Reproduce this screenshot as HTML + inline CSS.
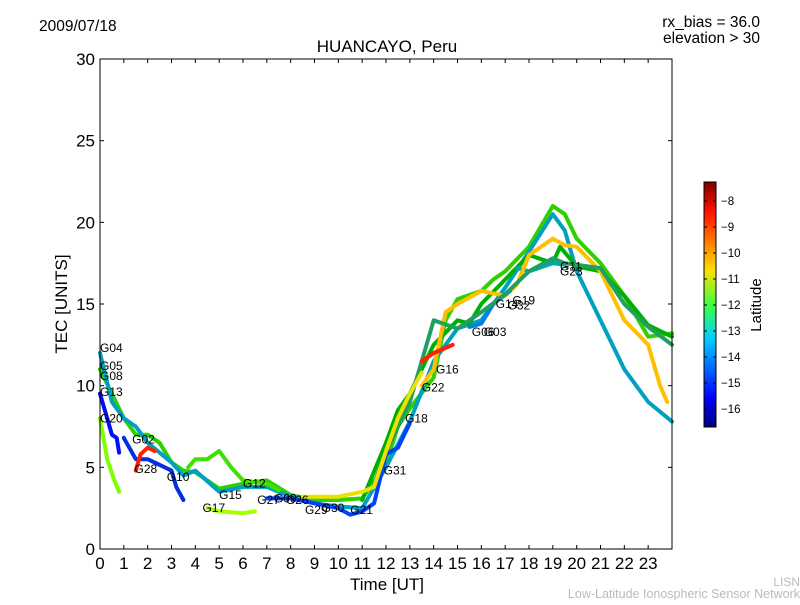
<!DOCTYPE html>
<html><head><meta charset="utf-8"><style>
body{margin:0;background:#fff;font-family:"Liberation Sans",sans-serif}
svg text{font-family:"Liberation Sans",sans-serif}
</style></head><body>
<svg id="chart" width="800" height="600" xmlns="http://www.w3.org/2000/svg">
<defs><linearGradient id="jet" x1="0" y1="1" x2="0" y2="0">
<stop offset="0" stop-color="#00007f"/><stop offset="0.12" stop-color="#0000ff"/><stop offset="0.36" stop-color="#00d0ff"/><stop offset="0.5" stop-color="#40ff40"/><stop offset="0.64" stop-color="#ffe000"/><stop offset="0.88" stop-color="#ff1000"/><stop offset="1" stop-color="#7f0000"/></linearGradient></defs>
<text x="39" y="31" font-size="15.5">2009/07/18</text>
<text x="760" y="27" font-size="15.5" text-anchor="end">rx_bias = 36.0</text>
<text x="760" y="43" font-size="15.5" text-anchor="end">elevation &gt; 30</text>
<text x="387" y="52" font-size="17" text-anchor="middle">HUANCAYO, Peru</text>
<g id="series"></g>
<g id="labels"></g>
<rect x="100" y="59" width="572" height="490" fill="none" stroke="#000" stroke-width="1"/>
<g id="axes"></g>
<text x="387" y="590" font-size="17" text-anchor="middle">Time [UT]</text>
<text transform="translate(67,304) rotate(-90)" font-size="17" text-anchor="middle">TEC [UNITS]</text>
<rect x="704" y="182" width="12" height="245" fill="url(#jet)" stroke="#000" stroke-width="1"/>
<g id="cbticks"></g>
<text transform="translate(761,305) rotate(-90)" font-size="15" text-anchor="middle">Latitude</text>
<text x="800" y="586" font-size="12" fill="#bbb" text-anchor="end">LISN</text>
<text x="800" y="598" font-size="12.5" fill="#bbb" text-anchor="end">Low-Latitude Ionospheric Sensor Network</text>
</svg>
<script>
const xTicks=[0,1,2,3,4,5,6,7,8,9,10,11,12,13,14,15,16,17,18,19,20,21,22,23];
const yTicks=[0,5,10,15,20,25,30];
const cbTicks=[-8,-9,-10,-11,-12,-13,-14,-15,-16];
const sColors=['#80ff00','#0010ff','#30d000','#00a0c0','#0030e0','#40e000','#a8ff00','#00b000','#00a8b0','#ffc000','#0080e0','#20a060','#ff2000','#0040ff','#ff2000','#f0e000'];
const sTimes=[
[0,0.3,0.6,0.8],
[0,0.3,0.5,0.7,0.8],
[0,1,1.5,2,2.5,3,3.5,4,5,6,7,8,9,10,11,12,12.5,13,14,14.5,15,16,16.5,17,18,19,19.5,20,21,22,23,24],
[0,0.5,1,1.5,2,3,3.5,4,5,6,7,8,9,10,11,12,13,14,15,16,17,18,19,19.5,20,21,22,23,24],
[1,1.5,2,3,3.2,3.5],
[3.7,4,4.5,5,5.5,6,7,7.5],
[4.5,5,6,6.5],
[11,12,12.5,13,14,15,15.5,16,17,18,19,19.3,20,21,22,23,24],
[17.5,18,19,19.5],
[13.5,14,14.5,15,16,17,17.5,18,19,19.5,20,21,22,23,23.5,23.8],
[15.5,16,16.5,17.2],
[11.5,12,13,14,15,16,17,18,19,19.5,20,21,22,23,24],
[1.5,1.7,2,2.3],
[7,8,9,10,10.5,11,11.5,12,12.5,13],
[13.5,14,14.8],
[8.5,9,10,11,11.5,12,12.5,13,13.5]
];
const sValues=[
[8,5.5,4.2,3.5],
[9.5,8,7,6.8,5.9],
[11,8,7,7,6.5,5.3,4.8,4.7,3.7,4,4.2,3.3,3,3,3.1,5.2,7.5,8.6,10.5,14,15.3,15.8,16.5,17,18.5,21,20.5,19,17.5,15.5,13,13.2],
[12,9,8,7.5,6.5,5.3,4.5,4.8,3.5,3.8,3.8,3.2,2.8,2.6,2.5,5,7.8,11.5,13.5,14,16,18.2,20.5,19.5,17,14,11,9,7.8],
[6.8,5.5,5.5,4.8,3.8,3],
[5,5.5,5.5,6,5,4.2,4,3.6],
[2.5,2.3,2.2,2.3],
[3,6.5,8.5,9.5,12.5,14,13.8,15,16.5,18,17.5,18.5,17.3,17,15.5,13.7,13],
[17.2,17,17.5,17.4],
[10,11,14.5,15,15.8,15.5,16.2,18,19,18.6,18.5,17,14,12.5,10,9],
[13.6,13.8,15,15.8],
[4,6,9,14,13.5,14.5,15.6,17,17.8,17.5,17.4,17.2,15,13.6,12.5],
[4.8,5.8,6.2,6],
[3.1,3.1,2.8,2.5,2.1,2.3,2.8,5.8,6.2,7.7],
[11.5,12,12.5],
[3.2,3.2,3.2,3.5,3.8,6,8,9.5,10.8]
];
const labNames=['G04','G05','G08','G13','G20','G02','G28','G10','G17','G15','G12','G27','G09','G26','G29','G30','G21','G31','G18','G22','G16','G06','G03','G14','G19','G32','G11','G23'];
const labT=[0,0,0,0,0,1.35,1.45,2.8,4.3,5.0,6.0,6.6,7.3,7.8,8.6,9.3,10.5,11.9,12.8,13.5,14.1,15.6,16.1,16.6,17.3,17.1,19.3,19.3];
const labV=[12.3,11.2,10.6,9.6,8.0,6.7,4.9,4.4,2.5,3.3,4.0,3.0,3.1,3.0,2.4,2.5,2.4,4.8,8.0,9.9,11.0,13.3,13.3,15.0,15.2,14.9,17.3,17.0];
const X=t=>100+t*572/24, Y=v=>549-v*490/30;
const NS='http://www.w3.org/2000/svg';
const sg=document.getElementById('series');
sValues.forEach((vals,i)=>{
 const p=document.createElementNS(NS,'polyline');
 p.setAttribute('points',vals.map((v,j)=>X(sTimes[i][j]).toFixed(1)+','+Y(v).toFixed(1)).join(' '));
 p.setAttribute('fill','none');p.setAttribute('stroke',sColors[i]);p.setAttribute('stroke-width','4');
 p.setAttribute('stroke-linejoin','round');p.setAttribute('stroke-linecap','round');
 
 
 sg.appendChild(p);
});
const lg=document.getElementById('labels');
labNames.forEach((n,i)=>{
 const t=document.createElementNS(NS,'text');
 t.setAttribute('x',X(labT[i]));t.setAttribute('y',Y(labV[i])+4);t.setAttribute('font-size','12');
 t.textContent=n;
 
 
 lg.appendChild(t);
});
const ax=document.getElementById('axes');
function line(g,x1,y1,x2,y2){const l=document.createElementNS(NS,'line');l.setAttribute('x1',x1);l.setAttribute('y1',y1);l.setAttribute('x2',x2);l.setAttribute('y2',y2);l.setAttribute('stroke','#000');g.appendChild(l);return l;}
function txt(g,x,y,s,fs,anc){const t=document.createElementNS(NS,'text');t.setAttribute('x',x);t.setAttribute('y',y);t.setAttribute('font-size',fs);t.setAttribute('text-anchor',anc);t.textContent=s;g.appendChild(t);return t;}
xTicks.forEach(t=>{const x=X(t);line(ax,x,549,x,545);line(ax,x,59,x,63);
 const e=txt(ax,x,569,t,17,'middle');
 
 });
yTicks.forEach(v=>{const y=Y(v);line(ax,100,y,104,y);line(ax,672,y,668,y);
 const e=txt(ax,95,y+6,v,17,'end');
 
 });
const cb=document.getElementById('cbticks');
cbTicks.forEach(v=>{const y=201+(-8-v)*26;line(cb,704,y,707,y);line(cb,716,y,713,y);
 const e=txt(cb,721,y+4,'\u2212'+(-v),11.5,'start');
 
 });
</script>
</body></html>
